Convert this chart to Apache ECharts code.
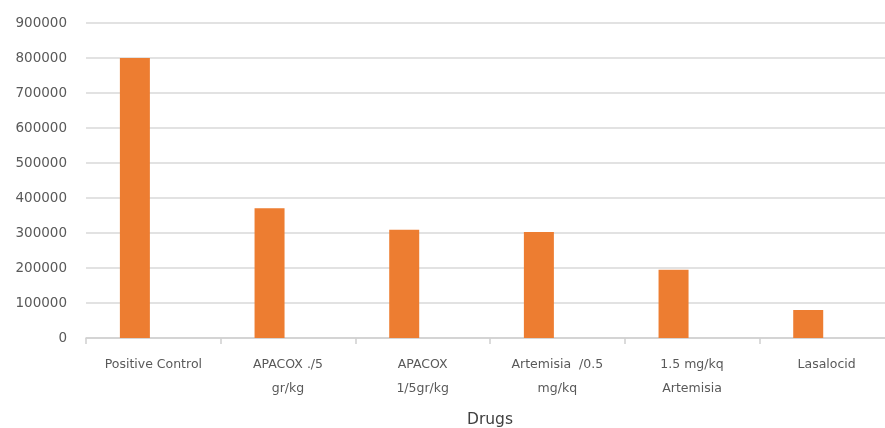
<!DOCTYPE html>
<html>
<head>
<meta charset="utf-8">
<script src="https://cdn.jsdelivr.net/npm/echarts@6/dist/echarts.min.js"></script>
<style>html,body{margin:0;padding:0;background:#fff}#c{width:885px;height:428px}</style>
</head>
<body>
<div id="c"></div>
<script>
var categories = ["Positive Control", "APACOX ./5\ngr/kg", "APACOX\n1/5gr/kg", "Artemisia  /0.5\nmg/kq", "1.5 mg/kq\nArtemisia", "Lasalocid"];
var values = [800000, 371000, 309000, 303000, 195000, 80000];
var emptySeries = [null, null, null, null, null, null];
var yTicks = {min: 0, max: 900000, interval: 100000};

var chart = echarts.init(document.getElementById('c'));
chart.setOption({
  animation: false,
  textStyle: {fontFamily: 'DejaVu Sans'},
  grid: {left: 86, top: 23, width: 808, height: 315, containLabel: false, outerBoundsMode: 'none'},
  xAxis: {
    type: 'category',
    data: categories,
    name: 'Drugs',
    nameLocation: 'middle',
    nameGap: 74,
    nameTextStyle: {fontSize: 15.5, color: '#404040', fontFamily: 'DejaVu Sans'},
    axisLine: {lineStyle: {color: '#d0d0d0', width: 1.5}},
    axisTick: {show: true, length: 6, lineStyle: {color: '#d0d0d0', width: 1.5}},
    axisLabel: {fontSize: 12.5, color: '#595959', margin: 15, lineHeight: 24, interval: 0}
  },
  yAxis: {
    type: 'value',
    min: yTicks.min,
    max: yTicks.max,
    interval: yTicks.interval,
    axisLine: {show: false},
    axisTick: {show: false},
    splitLine: {lineStyle: {color: '#d9d9d9', width: 1.5}},
    axisLabel: {fontSize: 13.5, color: '#595959', margin: 19, formatter: function (v) { return String(v); }}
  },
  series: [
    {type: 'bar', data: values, barWidth: 30, barGap: '23%', itemStyle: {color: '#ED7D31'}},
    {type: 'bar', data: emptySeries, barWidth: 30, itemStyle: {color: '#A5A5A5'}}
  ]
});
</script>
</body>
</html>
